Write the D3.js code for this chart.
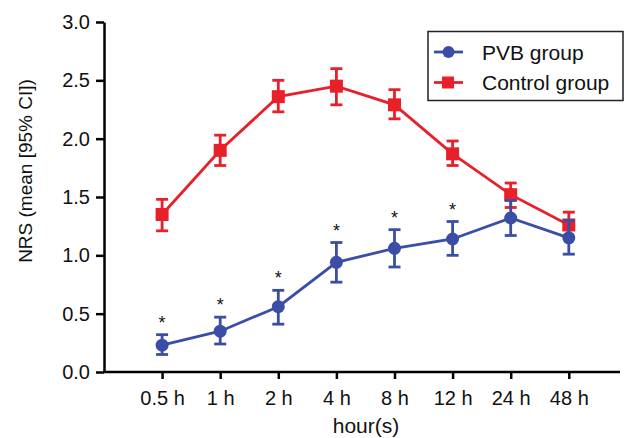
<!DOCTYPE html>
<html><head><meta charset="utf-8">
<script src="https://cdn.jsdelivr.net/npm/d3@7"></script>
<style>body{margin:0;background:#fff}svg{display:block}text{font-family:"Liberation Sans",Arial,sans-serif}</style>
</head><body>
<svg id="c" width="625" height="438"></svg>
<script>
const categories = ["0.5 h","1 h","2 h","4 h","8 h","12 h","24 h","48 h"];
const pvbMean  = [0.23,0.35,0.56,0.94,1.06,1.14,1.32,1.15];
const pvbLow   = [0.15,0.24,0.41,0.77,0.90,1.00,1.17,1.01];
const pvbHigh  = [0.32,0.47,0.70,1.11,1.22,1.29,1.47,1.30];
const ctlMean  = [1.35,1.90,2.36,2.45,2.29,1.87,1.52,1.26];
const ctlLow   = [1.21,1.77,2.23,2.29,2.17,1.77,1.41,1.16];
const ctlHigh  = [1.48,2.03,2.50,2.60,2.42,1.98,1.62,1.37];
const significant = [true,true,true,true,true,true,false,false];
const yTicks = [0,0.5,1.0,1.5,2.0,2.5,3.0];
const seriesNames = ["PVB group","Control group"];

const svg = d3.select("#c");
const mLeft = 104, mRight = 620, mTop = 22, mBottom = 372;
const blue = "#3a4ea8", red = "#e8202a";

const x = d3.scalePoint().domain(["", ...categories, " "]).range([mLeft, mLeft + 58.1*9]);
const y = d3.scaleLinear().domain([0,3]).range([mBottom, mTop]);

// Y axis
const ya = svg.append("g").attr("transform",`translate(${mLeft},0)`)
  .call(d3.axisLeft(y).tickValues(yTicks).tickFormat(d3.format(".1f")).tickSize(8).tickSizeOuter(0));
ya.select(".domain").attr("stroke","#000").attr("stroke-width",2.5);
ya.selectAll(".tick line").attr("stroke","#000").attr("stroke-width",2.5);
ya.selectAll(".tick text").attr("font-size",20).attr("fill","#111").attr("x",-14);

// X axis
const xa = svg.append("g").attr("transform",`translate(0,${mBottom})`)
  .call(d3.axisBottom(x).tickValues(categories).tickSize(7).tickSizeOuter(0));
xa.select(".domain").attr("stroke","#000").attr("stroke-width",2.5).attr("d",`M${mLeft-1},0H${mRight}`);
xa.selectAll(".tick line").attr("stroke","#000").attr("stroke-width",2.5);
xa.selectAll(".tick text").attr("font-size",20).attr("fill","#111").attr("y",19);

svg.append("text").attr("x",366).attr("y",433).attr("text-anchor","middle")
  .attr("font-size",21).attr("fill","#111").text("hour(s)");
svg.append("text").attr("transform","translate(32,171) rotate(-90)").attr("text-anchor","middle")
  .attr("font-size",19).attr("fill","#111").text("NRS (mean [95% CI])");

function drawSeries(mean, low, high, color, shape){
  const g = svg.append("g");
  const line = d3.line().x((d,i)=>x(categories[i])).y(d=>y(d));
  g.append("path").datum(mean).attr("d",line).attr("fill","none").attr("stroke",color).attr("stroke-width",2.8);
  categories.forEach((c,i)=>{
    const cx = x(c);
    g.append("line").attr("x1",cx).attr("x2",cx).attr("y1",y(low[i])).attr("y2",y(high[i])).attr("stroke",color).attr("stroke-width",2.8);
    [low[i],high[i]].forEach(v=>g.append("line").attr("x1",cx-6).attr("x2",cx+6).attr("y1",y(v)).attr("y2",y(v)).attr("stroke",color).attr("stroke-width",2.8));
    if(shape==="circle") g.append("circle").attr("cx",cx).attr("cy",y(mean[i])).attr("r",6.5).attr("fill",color);
    else g.append("rect").attr("x",cx-6.5).attr("y",y(mean[i])-6.5).attr("width",13).attr("height",13).attr("fill",color);
  });
}
drawSeries(ctlMean, ctlLow, ctlHigh, red, "square");
drawSeries(pvbMean, pvbLow, pvbHigh, blue, "circle");

// asterisks
categories.forEach((c,i)=>{
  if(significant[i]) svg.append("text").attr("x",x(c)).attr("y",y(pvbHigh[i])-6).attr("text-anchor","middle")
    .attr("font-size",18).attr("fill","#111").text("*");
});

// legend
const lg = svg.append("g");
lg.append("rect").attr("x",428).attr("y",31.5).attr("width",195).attr("height",69).attr("fill","#fff").attr("stroke","#222").attr("stroke-width",1.5);
[[blue,"circle",52],[red,"square",82.5]].forEach(([col,sh,cy],k)=>{
  lg.append("line").attr("x1",434).attr("x2",463).attr("y1",cy).attr("y2",cy).attr("stroke",col).attr("stroke-width",2.8);
  if(sh==="circle") lg.append("circle").attr("cx",448.5).attr("cy",cy).attr("r",6).attr("fill",col);
  else lg.append("rect").attr("x",442).attr("y",cy-6).attr("width",12).attr("height",12).attr("fill",col);
  lg.append("text").attr("x",482).attr("y",cy+7.5).attr("font-size",21).attr("fill","#111").text(seriesNames[k]);
});
</script>
</body></html>
